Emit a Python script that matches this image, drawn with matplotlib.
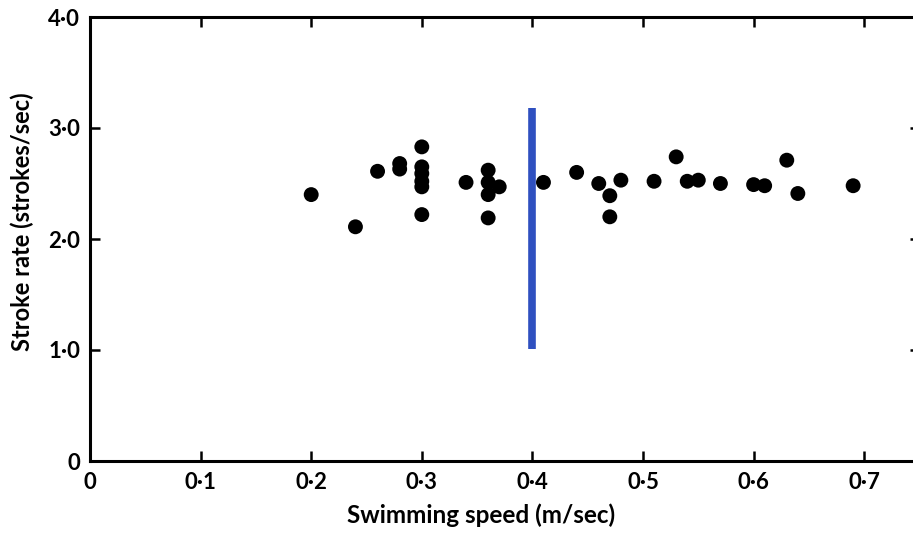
import matplotlib

matplotlib.use("Agg")

import matplotlib.pyplot as plt  # noqa: E402

# swimming speed (m/sec) and stroke rate (strokes/sec)
speed = [
    0.20, 0.24, 0.26, 0.28, 0.28,
    0.30, 0.30, 0.30, 0.30, 0.30, 0.30,
    0.34, 0.36, 0.36, 0.36, 0.37, 0.36,
    0.41, 0.44, 0.46, 0.47, 0.47, 0.48,
    0.51, 0.53, 0.54, 0.55, 0.57, 0.60, 0.61,
    0.63, 0.64, 0.69,
]
stroke_rate = [
    2.40, 2.11, 2.61, 2.68, 2.63,
    2.83, 2.65, 2.59, 2.52, 2.47, 2.22,
    2.51, 2.62, 2.51, 2.40, 2.47, 2.19,
    2.51, 2.60, 2.50, 2.39, 2.20, 2.53,
    2.52, 2.74, 2.52, 2.53, 2.50, 2.49, 2.48,
    2.71, 2.41, 2.48,
]

# blue marker line drawn over the plot
marker_x = 0.40
marker_y = (1.01, 3.18)

x_ticks = [0, 0.1, 0.2, 0.3, 0.4, 0.5, 0.6, 0.7]
x_tick_labels = ["0", "0·1", "0·2", "0·3", "0·4", "0·5", "0·6", "0·7"]
y_ticks = [0, 1, 2, 3, 4]
y_tick_labels = ["0", "1·0", "2·0", "3·0", "4·0"]

plt.rcParams["font.family"] = ["Lato", "DejaVu Sans"]

fig = plt.figure(figsize=(9.13, 5.34), dpi=100)
ax = fig.add_axes([90 / 913, 73 / 534, 829.5 / 913, 444 / 534])

ax.scatter(speed, stroke_rate, s=115, color="black", edgecolors="none", zorder=3)
ax.plot([marker_x, marker_x], marker_y, color="#2f50c0", linewidth=5.5,
        solid_capstyle="butt", zorder=4)

ax.set_xlim(0, 0.75)
ax.set_ylim(0, 4)

ax.set_xticks(x_ticks)
ax.set_xticklabels(x_tick_labels)
ax.set_yticks(y_ticks)
ax.set_yticklabels(y_tick_labels)

for spine in ax.spines.values():
    spine.set_linewidth(2.2)

ax.tick_params(direction="in", length=7, width=1.8, top=True, right=True,
               labelsize=16)
ax.tick_params(axis="x", pad=8)
ax.tick_params(axis="y", pad=7)
for lab in ax.get_xticklabels() + ax.get_yticklabels():
    lab.set_fontweight("bold")

ax.set_xlabel("Swimming speed (m/sec)", fontsize=17.5, fontweight="bold")
ax.set_ylabel("Stroke rate (strokes/sec)", fontsize=17, fontweight="bold")
ax.xaxis.set_label_coords(0.471, -0.095)
ax.yaxis.set_label_coords(-0.068, 0.54)

fig.savefig("out.png", dpi=100)
